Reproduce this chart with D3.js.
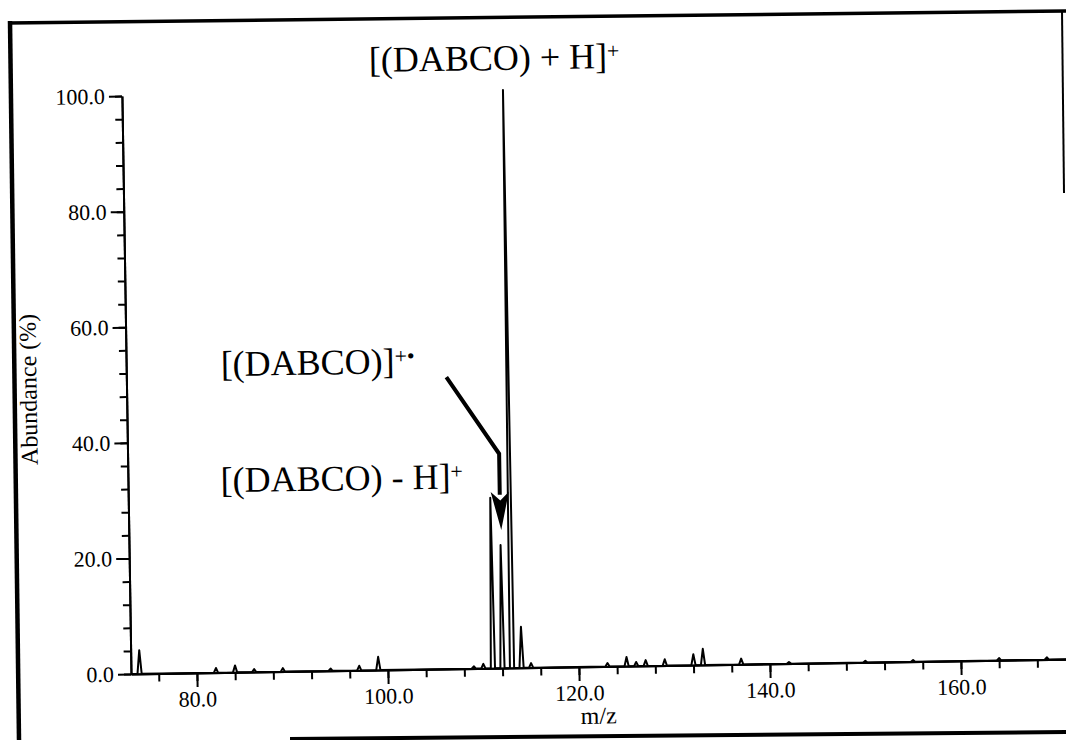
<!DOCTYPE html>
<html>
<head>
<meta charset="utf-8">
<script src="https://cdn.jsdelivr.net/npm/d3@7"></script>
<style>
  body { margin: 0; background: #fff; }
  svg { display: block; font-family: 'Liberation Serif', 'Times New Roman', serif; }
  .axis path, .axis line { stroke: #000; stroke-width: 2px; }
</style>
</head>
<body>
<svg class="spectrum" width="1066" height="740"></svg>
<script>
// peak positions (m/z) and relative abundance (%)
const mzValues  = [74, 82, 84, 86, 89, 94, 97, 99, 109, 110, 111, 112, 113, 114, 115, 123, 125, 126, 127, 129, 132, 133, 137, 142, 150, 155, 164, 169];
const abundance = [4.1, 0.8, 1.2, 0.5, 0.6, 0.4, 0.8, 2.3, 0.4, 0.8, 29.5, 21.3, 100, 7.1, 0.8, 0.6, 1.6, 0.7, 1.0, 1.1, 1.9, 2.8, 1.0, 0.3, 0.3, 0.3, 0.4, 0.4];

const xMajorTicks = [80, 100, 120, 140, 160];
const yMajorTicks = [0, 20, 40, 60, 80, 100];

const peakLabels = ['[(DABCO) + H]', '[(DABCO)]', '[(DABCO) - H]'];
const peakCharges = ['+', '+\u2022', '+'];
// label anchors in data units (m/z, %)
const labelMz  = [99.0, 83.0, 82.8];
const labelAbd = [103.5, 51.3, 31.2];

function drawSpectrum(){
  const width = 936;
  const height = 578;
  const serif = "'Liberation Serif', 'Times New Roman', serif";

  const x = d3.scaleLinear().domain([73.1, 171.1]).range([0, width]);
  const y = d3.scaleLinear().domain([0, 100]).range([height, 0]);

  const svg = d3.select('svg.spectrum');

  // outer frame (scanned page border)
  const frame = [
    [[8, 23], [1066, 11], 3.5],
    [[10, 21], [19, 740], 4.5],
    [[1062, 11], [1064, 193], 2],
    [[290, 739], [1066, 732], 4]
  ];
  svg.selectAll('line.frame')
    .data(frame)
    .enter()
    .append('line')
      .attr('class', 'frame')
      .attr('x1', d => d[0][0]).attr('y1', d => d[0][1])
      .attr('x2', d => d[1][0]).attr('y2', d => d[1][1])
      .attr('stroke', '#000')
      .attr('stroke-width', d => d[2]);

  // the scan is slightly tilted
  const g = svg.append('g')
    .attr('transform', `translate(131,674) rotate(-0.9) translate(0,${-height})`);

  // minor ticks
  g.append('g')
    .attr('class', 'axis')
    .call(d3.axisLeft(y).tickValues(d3.range(0, 101, 4)).tickSize(7).tickSizeOuter(0).tickFormat(''));
  g.append('g')
    .attr('class', 'axis')
    .attr('transform', `translate(0,${height})`)
    .call(d3.axisBottom(x).tickValues(d3.range(76, 171, 4)).tickSize(8).tickSizeOuter(0).tickFormat(''));

  // major ticks + labels
  const yAxis = g.append('g')
    .attr('class', 'axis y')
    .call(d3.axisLeft(y).tickValues(yMajorTicks).tickSize(13).tickSizeOuter(0).tickPadding(4).tickFormat(d3.format('.1f')));
  const xAxis = g.append('g')
    .attr('class', 'axis x')
    .attr('transform', `translate(0,${height})`)
    .call(d3.axisBottom(x).tickValues(xMajorTicks).tickSize(14).tickSizeOuter(0).tickPadding(4).tickFormat(d3.format('.1f')));

  yAxis.attr('font-family', serif).attr('font-size', 22);
  xAxis.attr('font-family', serif).attr('font-size', 22);
  yAxis.selectAll('text').style('font-family', serif).style('font-size', '22px').style('fill', '#000');
  xAxis.selectAll('text').style('font-family', serif).style('font-size', '22px').style('fill', '#000');

  g.append('text')
    .text('m/z')
    .attr('x', x(122.0))
    .attr('y', height + 57)
    .style('font-family', serif)
    .style('font-size', '24px')
    .style('text-anchor', 'middle');

  g.append('text')
    .text('Abundance (%)')
    .attr('transform', `translate(-90,${y(49.5)}) rotate(-90)`)
    .style('font-family', serif)
    .style('font-size', '24px')
    .style('text-anchor', 'middle');

  // profile trace built from the peaks
  const pts = [[73.1, 0]];
  mzValues.forEach((m, i) => {
    pts.push([m - 0.22, 0], [m, abundance[i]], [m + 0.22, 0]);
  });
  pts.push([171.1, 0]);

  g.append('path')
    .datum(pts)
    .attr('fill', 'none')
    .attr('stroke', '#000')
    .attr('stroke-width', 2)
    .attr('stroke-linejoin', 'round')
    .attr('d', d3.line().x(d => x(d[0])).y(d => y(d[1])));

  // labels
  const lab = g.selectAll('text.peakLabel')
    .data(peakLabels)
    .enter()
    .append('text')
      .attr('class', 'peakLabel')
      .attr('x', (d, i) => x(labelMz[i]))
      .attr('y', (d, i) => y(labelAbd[i]))
      .style('font-family', serif)
      .style('font-size', '36px');
  lab.append('tspan').text(d => d);
  lab.append('tspan')
    .text((d, i) => peakCharges[i])
    .attr('dy', '-0.45em')
    .style('font-size', '22px');

  // arrow to the radical cation peak
  const arrow = [[106.6, 50.5], [112.0, 37.1], [112.0, 30.0]];
  g.append('path')
    .datum(arrow)
    .attr('fill', 'none')
    .attr('stroke', '#000')
    .attr('stroke-width', 4)
    .attr('d', d3.line().x(d => x(d[0])).y(d => y(d[1])));

  const head = [[111.05, 30.5], [112.05, 29.0], [112.95, 30.5], [112.1, 23.9]];
  g.append('path')
    .datum(head)
    .attr('fill', '#000')
    .attr('d', d3.line().x(d => x(d[0])).y(d => y(d[1])).curve(d3.curveLinearClosed));
}

drawSpectrum();
</script>
</body>
</html>
